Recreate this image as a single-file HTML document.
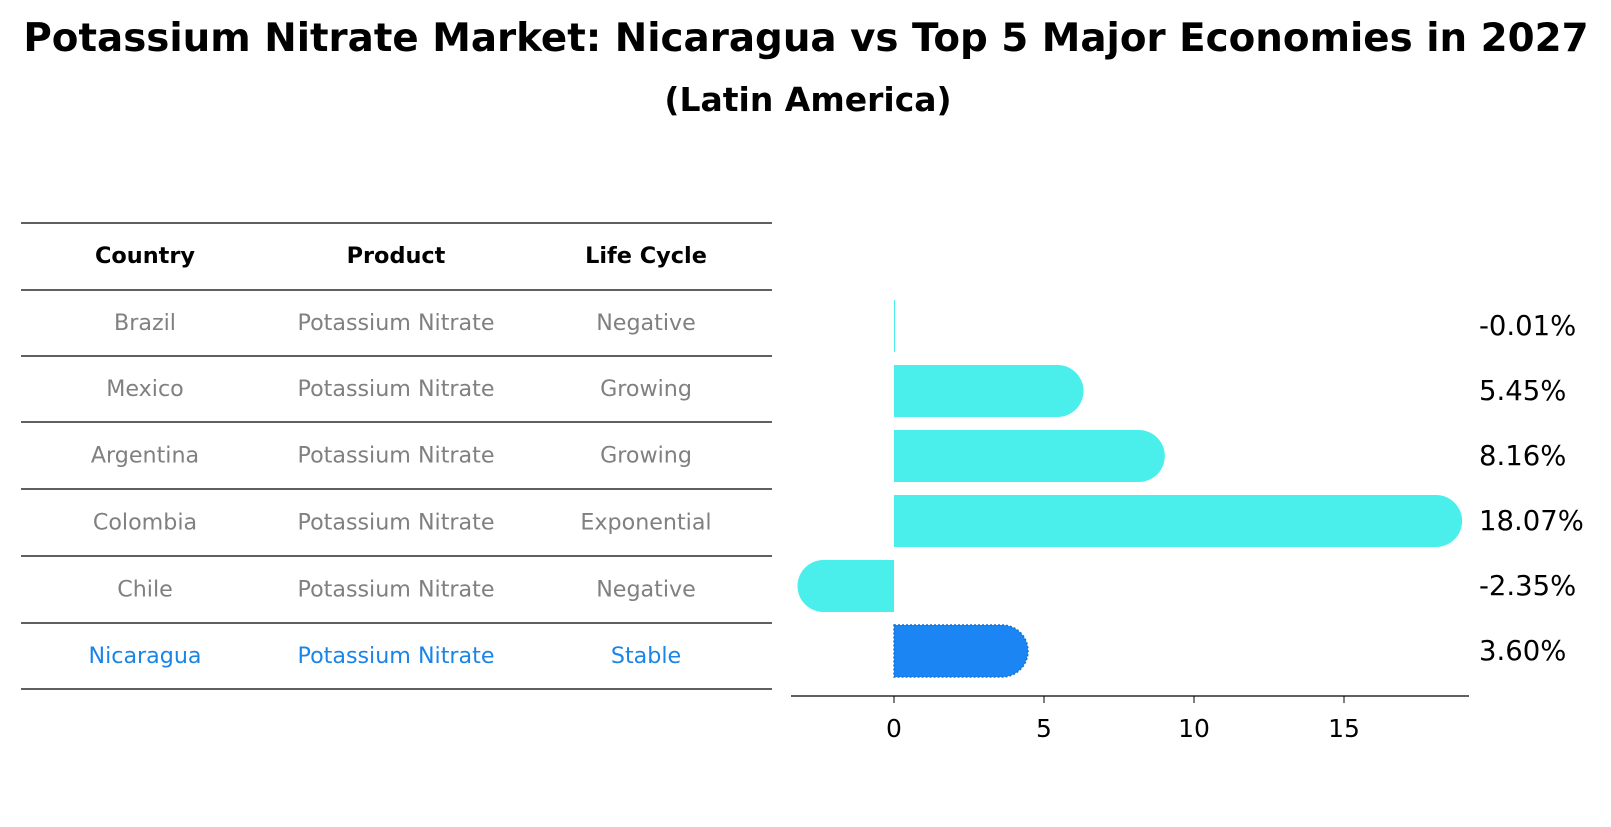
<!DOCTYPE html>
<html><head><meta charset="utf-8"><style>
body{margin:0;background:#fff;width:1611px;height:823px;overflow:hidden;font-family:"DejaVu Sans","Liberation Sans",sans-serif;}
svg text{font-family:"DejaVu Sans","Liberation Sans",sans-serif;}
</style></head><body>
<svg id="chart" width="1611" height="823" xmlns="http://www.w3.org/2000/svg">
<text x="806" y="51" text-anchor="middle" font-size="38.8" font-weight="bold">Potassium Nitrate Market: Nicaragua vs Top 5 Major Economies in 2027</text>
<text x="808" y="111" text-anchor="middle" font-size="33" font-weight="bold">(Latin America)</text>
<g id="table"></g>
<g id="bars"></g>
</svg>
<script>
const countries=["Brazil","Mexico","Argentina","Colombia","Chile","Nicaragua"];
const products=["Potassium Nitrate","Potassium Nitrate","Potassium Nitrate","Potassium Nitrate","Potassium Nitrate","Potassium Nitrate"];
const lifeCycles=["Negative","Growing","Growing","Exponential","Negative","Stable"];
const growth=[-0.01,5.45,8.16,18.07,-2.35,3.60];
const xTicks=[0,5,10,15];
const NS="http://www.w3.org/2000/svg";
function mk(tag,attrs,parent){const e=document.createElementNS(NS,tag);for(const k in attrs)e.setAttribute(k,attrs[k]);parent.appendChild(e);return e;}
const table=document.getElementById('table');
const lineYs=[223,290,356,422,489,556,623,689];
lineYs.forEach(y=>{const l=mk('line',{x1:21,x2:772,y1:y,y2:y,stroke:'#000','stroke-width':1.2},table);

});
const colX=[145,396,646];
["Country","Product","Life Cycle"].forEach((h,i)=>{const t=mk('text',{x:colX[i],y:263,'text-anchor':'middle','font-size':22.4,'font-weight':'bold'},table);t.textContent=h;

});
countries.forEach((c,r)=>{const y=(lineYs[r+1]+lineYs[r+2])/2+7;const col=c==="Nicaragua"?"#1a85e8":"#808080";
[c,products[r],lifeCycles[r]].forEach((v,i)=>{const t=mk('text',{x:colX[i],y:y,'text-anchor':'middle','font-size':22.2,fill:col},table);t.textContent=v;

});});
const bars=document.getElementById('bars');
const x0=894,ppu=30;const xs=v=>x0+v*ppu;
const yc=i=>326+i*65;const bh=52,r=26;
growth.forEach((v,i)=>{const isN=countries[i]==="Nicaragua";const fill=isN?"#1a85f3":"#4aeeea";
const a=xs(0),b=xs(v);let d;const top=yc(i)-bh/2,bot=yc(i)+bh/2;
if(Math.abs(v)<0.1){d=`M${a} ${top}H${a+1}V${bot}H${a}Z`;}
else if(v>0){d=`M${a} ${top}H${b}A${r} ${r} 0 0 1 ${b} ${bot}H${a}Z`;}
else{d=`M${a} ${top}H${b}A${r} ${r} 0 0 0 ${b} ${bot}H${a}Z`;}
const p=mk('path',{d:d,fill:fill},bars);
if(isN){p.setAttribute('stroke','#1570d0');p.setAttribute('stroke-dasharray','2 2');p.setAttribute('stroke-width','1.5');}


const t=mk('text',{x:1479,y:yc(i)+9,'font-size':27.5},bars);t.textContent=v.toFixed(2)+'%';

});
const ax=mk('line',{x1:791,x2:1469,y1:696,y2:696,stroke:'#000','stroke-width':1.3},bars);


xTicks.forEach(v=>{const tk=mk('line',{x1:xs(v),x2:xs(v),y1:696,y2:703,stroke:'#000'},bars);


const t=mk('text',{x:xs(v),y:737,'text-anchor':'middle','font-size':25},bars);t.textContent=v;

});
</script>
</body></html>
